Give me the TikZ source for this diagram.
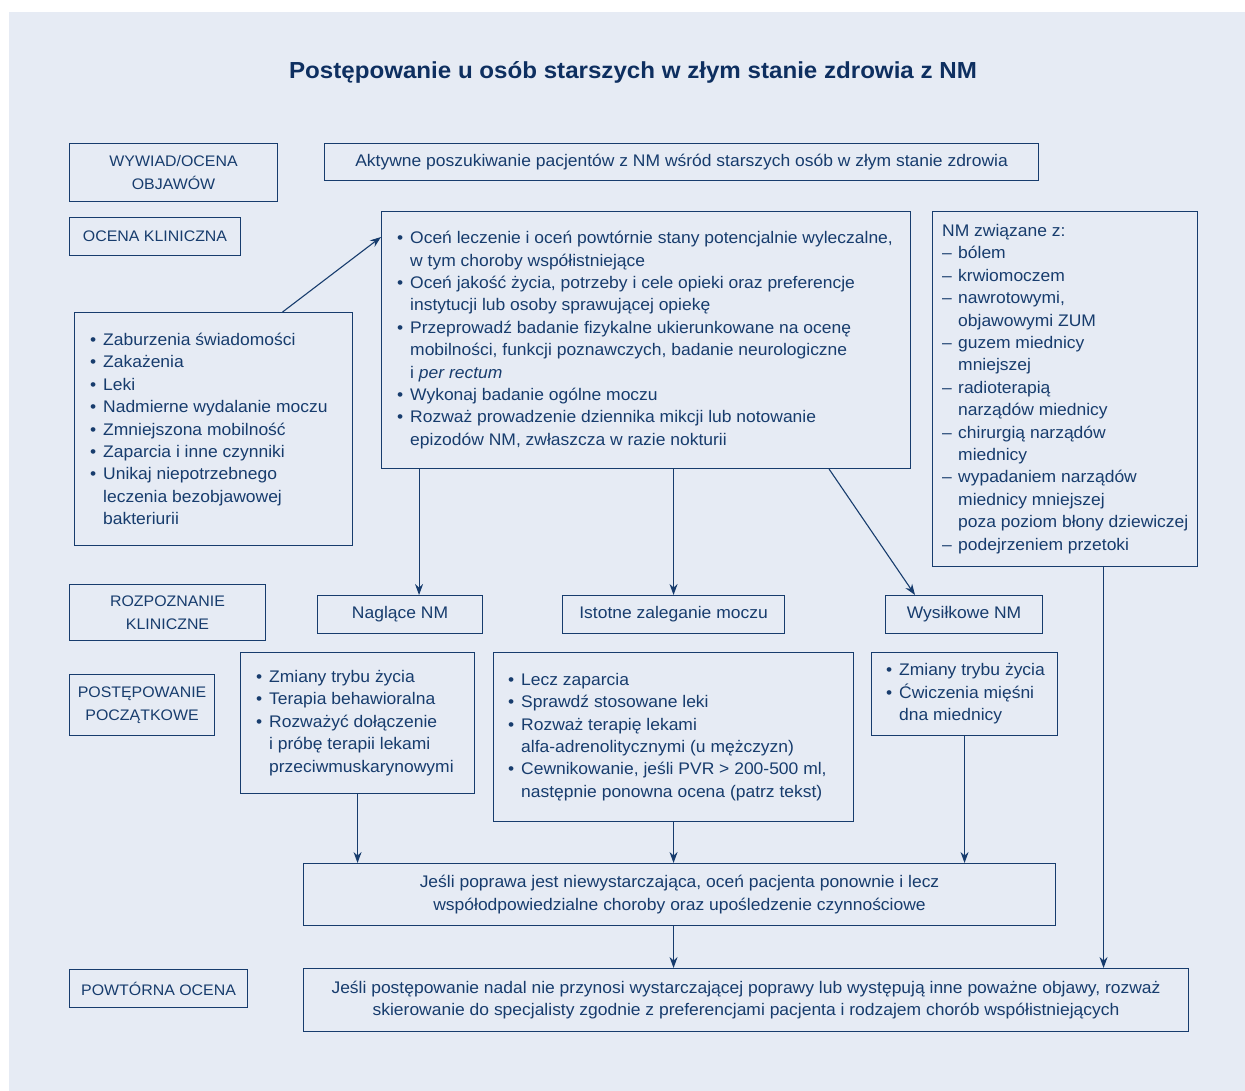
\documentclass[tikz,border=0pt]{standalone}
\usepackage{fontspec}
\setmainfont{Liberation Sans}[FakeStretch=1.04]
\usetikzlibrary{arrows.meta,calc}
\definecolor{navy}{HTML}{173C6D}
\definecolor{titlenavy}{HTML}{0E2F60}
\definecolor{bgblue}{HTML}{E6EBF4}
\newcommand\fs{\fontsize{16.8}{22.4}\selectfont}
\newcommand\fscap{\fontsize{15.3}{22.4}\selectfont}
\newcommand\mybul{\makebox[13pt][l]{\textbullet}}
\newcommand\myind{\hspace*{13pt}}
\newcommand\mydash{\makebox[16pt][l]{–}}
\newcommand\mydind{\hspace*{16pt}}
\begin{document}
\begin{tikzpicture}[x=1pt,y=-1pt,
  box/.style={draw=navy,line width=1.1pt,inner sep=0pt,anchor=north west},
  lbl/.style={box,align=center,text=navy,font=\fs},
  caplbl/.style={lbl,font=\fscap},
  txt/.style={inner sep=0pt,align=left,text=navy,font=\fs,anchor=west},
  arr/.style={draw=navy,line width=1.1pt,-{Stealth[length=11pt,width=8pt]}}
]
\fill[white] (0,0) rectangle (1245,1091);
\fill[bgblue] (9,12) rectangle (1245,1091);
\useasboundingbox (0,0) rectangle (1245,1091);

\node[font=\fontsize{23.2}{27}\selectfont\bfseries,text=titlenavy] (title) at (633,72) {Postępowanie u osób starszych w złym stanie zdrowia z NM};

\node[caplbl,minimum width=208pt,minimum height=58pt] (wyw) at (69,143) {WYWIAD/OCENA\\OBJAWÓW};
\node[caplbl,minimum width=171pt,minimum height=38pt] (okl) at (69,217) {OCENA KLINICZNA};
\node[lbl,minimum width=714pt,minimum height=37pt] (akt) at (324,143) {Aktywne poszukiwanie pacjentów z NM wśród starszych osób w złym stanie zdrowia};

\node[box,minimum width=529pt,minimum height=257pt] (main) at (381,211) {};
\node[txt] (mainT) at ([xshift=16pt]main.west) {%
\mybul Oceń leczenie i oceń powtórnie stany potencjalnie wyleczalne,\\
\myind w tym choroby współistniejące\\
\mybul Oceń jakość życia, potrzeby i cele opieki oraz preferencje\\
\myind instytucji lub osoby sprawującej opiekę\\
\mybul Przeprowadź badanie fizykalne ukierunkowane na ocenę\\
\myind mobilności, funkcji poznawczych, badanie neurologiczne\\
\myind i \textit{per rectum}\\
\mybul Wykonaj badanie ogólne moczu\\
\mybul Rozważ prowadzenie dziennika mikcji lub notowanie\\
\myind epizodów NM, zwłaszcza w razie nokturii};

\node[box,minimum width=278pt,minimum height=233pt] (lbox) at (74,312) {};
\node[txt] (lboxT) at ([xshift=16pt]lbox.west) {%
\mybul Zaburzenia świadomości\\
\mybul Zakażenia\\
\mybul Leki\\
\mybul Nadmierne wydalanie moczu\\
\mybul Zmniejszona mobilność\\
\mybul Zaparcia i inne czynniki\\
\mybul Unikaj niepotrzebnego\\
\myind leczenia bezobjawowej\\
\myind bakteriurii};

\node[box,minimum width=265pt,minimum height=355pt] (rbox) at (932,211) {};
\node[txt] (rboxT) at ([xshift=10pt]rbox.west) {%
NM związane z:\\
\mydash bólem\\
\mydash krwiomoczem\\
\mydash nawrotowymi,\\
\mydind objawowymi ZUM\\
\mydash guzem miednicy\\
\mydind mniejszej\\
\mydash radioterapią\\
\mydind narządów miednicy\\
\mydash chirurgią narządów\\
\mydind miednicy\\
\mydash wypadaniem narządów\\
\mydind miednicy mniejszej\\
\mydind poza poziom błony dziewiczej\\
\mydash podejrzeniem przetoki};

\node[caplbl,minimum width=196pt,minimum height=56pt] (roz) at (69,584) {ROZPOZNANIE\\KLINICZNE};
\node[lbl,minimum width=165pt,minimum height=38pt] (nag) at (317,595) {Naglące NM};
\node[lbl,minimum width=222pt,minimum height=38pt] (ist) at (562,595) {Istotne zaleganie moczu};
\node[lbl,minimum width=157pt,minimum height=38pt] (wys) at (885,595) {Wysiłkowe NM};

\node[caplbl,minimum width=145pt,minimum height=61pt] (pp) at (69,674) {POSTĘPOWANIE\\POCZĄTKOWE};

\node[box,minimum width=234pt,minimum height=141pt] (zm) at (240,652) {};
\node[txt] (zmT) at ([xshift=16pt]zm.west) {%
\mybul Zmiany trybu życia\\
\mybul Terapia behawioralna\\
\mybul Rozważyć dołączenie\\
\myind i próbę terapii lekami\\
\myind przeciwmuskarynowymi};

\node[box,minimum width=360pt,minimum height=169pt] (lecz) at (493,652) {};
\node[txt] (leczT) at ([xshift=15pt]lecz.west) {%
\mybul Lecz zaparcia\\
\mybul Sprawdź stosowane leki\\
\mybul Rozważ terapię lekami\\
\myind alfa-adrenolitycznymi (u mężczyzn)\\
\mybul Cewnikowanie, jeśli PVR > 200-500 ml,\\
\myind następnie ponowna ocena (patrz tekst)};

\node[box,minimum width=186pt,minimum height=83pt] (cw) at (871,652) {};
\node[txt] (cwT) at ([xshift=15pt]cw.west) {%
\mybul Zmiany trybu życia\\
\mybul Ćwiczenia mięśni\\
\myind dna miednicy};

\node[lbl,minimum width=752pt,minimum height=62pt] (pop) at (303,863) {Jeśli poprawa jest niewystarczająca, oceń pacjenta ponownie i lecz\\współodpowiedzialne choroby oraz upośledzenie czynnościowe};
\node[lbl,minimum width=885pt,minimum height=63pt] (fin) at (303,968) {Jeśli postępowanie nadal nie przynosi wystarczającej poprawy lub występują inne poważne objawy, rozważ\\skierowanie do specjalisty zgodnie z preferencjami pacjenta i rodzajem chorób współistniejących};
\node[caplbl,minimum width=178pt,minimum height=38pt] (pow) at (69,969) {POWTÓRNA OCENA};

\coordinate (a1s) at ([xshift=69pt]lbox.north);
\coordinate (a1e) at ([yshift=-26pt]main.north west);
\draw[arr] (a1s) -- (a1e);
\coordinate (nagT) at ([xshift=19pt]nag.north);
\draw[arr] (main.south -| nagT) -- (nagT);
\draw[arr] (main.south -| ist.north) -- (ist.north);
\coordinate (wysS) at ([xshift=-82pt]main.south east);
\coordinate (wysT) at ([xshift=30pt]wys.north west);
\draw[arr] (wysS) -- (wysT);
\coordinate (rS) at ([xshift=38.5pt]rbox.south);
\draw[arr] (rS) -- (rS |- fin.north);
\draw[arr] (zm.south) -- (zm.south |- pop.north);
\draw[arr] (lecz.south) -- (lecz.south |- pop.north);
\draw[arr] (cw.south) -- (cw.south |- pop.north);
\coordinate (popS) at ([xshift=-6pt]pop.south);
\draw[arr] (popS) -- (popS |- fin.north);
\end{tikzpicture}
\end{document}
